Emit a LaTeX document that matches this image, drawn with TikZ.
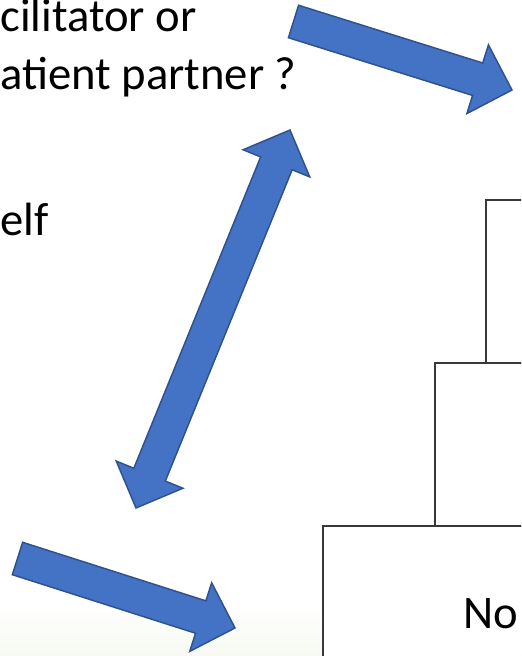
\documentclass[tikz,border=0pt]{standalone}
\usepackage{fontspec}
\setmainfont{Carlito}
\usetikzlibrary{calc}
\definecolor{arrowfill}{HTML}{4472C4}
\definecolor{arrowline}{HTML}{2F528F}
\definecolor{boxline}{HTML}{383838}
\definecolor{fadegreen}{HTML}{F6FAF1}
\tikzset{
  barrow/.style={fill=arrowfill, draw=arrowline, line width=1.1pt, line join=miter},
  stepbox/.style={draw=boxline, line width=1.2pt, fill=white},
  slidetext/.style={inner sep=0pt, anchor=base west, font=\fontsize{35}{42}\selectfont, text=black}
}
\newcommand\singlearrow[2]{%
  \path ($(#2)!27pt!(#1)$) coordinate (hb);
  \draw[barrow] ($(#1)!12.75pt!90:(#2)$) -- ($(hb)!12.75pt!90:(#2)$) -- ($(hb)!27pt!90:(#2)$) -- (#2)
    -- ($(hb)!27pt!-90:(#2)$) -- ($(hb)!12.75pt!-90:(#2)$) -- ($(#1)!12.75pt!-90:(#2)$) -- cycle;
}
\newcommand\doublearrow[2]{%
  \path ($(#1)!27pt!(#2)$) coordinate (ha) ($(#2)!27pt!(#1)$) coordinate (hb);
  \draw[barrow] (#1) -- ($(ha)!27pt!90:(#2)$) -- ($(ha)!12.75pt!90:(#2)$) -- ($(hb)!12.75pt!90:(#2)$)
    -- ($(hb)!27pt!90:(#2)$) -- (#2) -- ($(hb)!27pt!-90:(#2)$) -- ($(hb)!12.75pt!-90:(#2)$)
    -- ($(ha)!12.75pt!-90:(#2)$) -- ($(ha)!27pt!-90:(#2)$) -- cycle;
}
\begin{document}
\begin{tikzpicture}[x=0.75pt, y=-0.75pt]
\useasboundingbox (0,0) rectangle (521,656);
\clip (0,0) rectangle (521,656);
\fill[white] (0,0) rectangle (521,656);
\shade[top color=white, bottom color=fadegreen] (0,605) rectangle (521,656);
% stepped boxes
\draw[stepbox] (323,526) rectangle (540,680);
\draw[stepbox] (435,363) rectangle (540,526);
\draw[stepbox] (486,200) rectangle (540,363);
% texts
\node[slidetext] (t1) at (0,32) {cilitator or};
\node[slidetext] (t2) at (0,90) {atient partner ?};
\node[slidetext] (t3) at (0,235) {elf};
\node[slidetext] (t4) at (463,628) {No};
% arrows
\coordinate (a1t) at (293.5,21.5);
\coordinate (a1p) at (512,90);
\coordinate (a2t) at (17.5,558.5);
\coordinate (a2p) at (235,628);
\coordinate (d1) at (136,508);
\coordinate (d2) at (290,130);
\singlearrow{a1t}{a1p}
\singlearrow{a2t}{a2p}
\doublearrow{d1}{d2}
\end{tikzpicture}
\end{document}
